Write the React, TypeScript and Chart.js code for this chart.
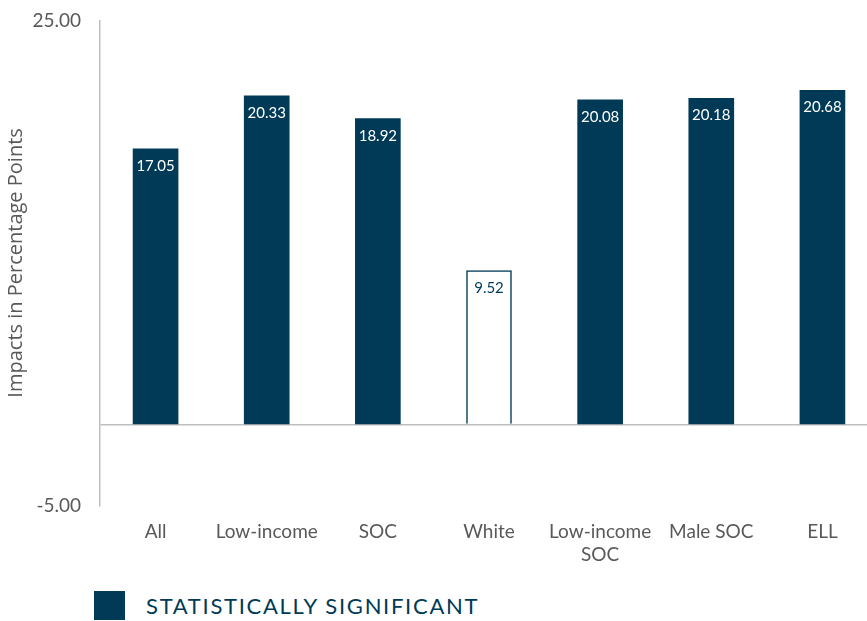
import React, { useEffect, useRef } from "react";
import { Chart, registerables } from "chart.js";

Chart.register(...registerables);

const categories: (string | string[])[] = ["All", "Low-income", "SOC", "White", ["Low-income", "SOC"], "Male SOC", "ELL"];
const impacts: number[] = [17.05, 20.33, 18.92, 9.52, 20.08, 20.18, 20.68];
const significant: boolean[] = [true, true, true, false, true, true, true];
const yTicks: number[] = [-5, 0, 25];

const NAVY = "#003a57";
const GRAY = "#595959";
const LINE = "#bfbfbf";
const FONT = "Lato, 'Open Sans', sans-serif";

const barLabels = {
  id: "barLabels",
  afterDatasetsDraw(chart: any) {
    const ctx = chart.ctx;
    const meta = chart.getDatasetMeta(0);
    ctx.save();
    ctx.font = `15px ${FONT}`;
    ctx.textAlign = "center";
    ctx.textBaseline = "middle";
    meta.data.forEach((bar: any, i: number) => {
      ctx.fillStyle = significant[i] ? "#ffffff" : NAVY;
      ctx.fillText(impacts[i].toFixed(2), bar.x, bar.y + 17);
    });
    ctx.restore();
  },
};

export default function App() {
  const ref = useRef<HTMLCanvasElement | null>(null);
  useEffect(() => {
    if (!ref.current) return;
    const chart = new Chart(ref.current, {
      type: "bar",
      data: {
        labels: categories,
        datasets: [
          {
            label: "Statistically significant",
            data: impacts,
            backgroundColor: significant.map((s) => (s ? NAVY : "#ffffff")),
            borderColor: NAVY,
            borderWidth: significant.map((s) => (s ? 0 : 1.5)),
            barThickness: 45,
          },
        ],
      },
      options: {
        animation: false,
        responsive: false,
        maintainAspectRatio: false,
        layout: { padding: { top: 0, right: 0, left: 0, bottom: 0 } },
        plugins: { legend: { display: false }, tooltip: { enabled: false } },
        scales: {
          x: {
            grid: { display: false },
            border: { display: false },
            ticks: { color: GRAY, font: { family: FONT, size: 19 }, padding: 7, maxRotation: 0, autoSkip: false },
          },
          y: {
            min: -5,
            max: 25,
            afterBuildTicks: (scale: any) => {
              scale.ticks = yTicks.map((v) => ({ value: v }));
            },
            afterFit: (scale: any) => {
              scale.width = 100;
            },
            grid: {
              drawTicks: false,
              color: (c: any) => (c.tick && c.tick.value === 0 ? LINE : "rgba(0,0,0,0)"),
              lineWidth: 1.5,
            },
            border: { display: true, color: LINE, width: 1.5 },
            ticks: {
              color: GRAY,
              font: { family: FONT, size: 19 },
              padding: 19,
              callback: (v: any) => (Number(v) === 0 ? "" : Number(v).toFixed(2)),
            },
            title: {
              display: true,
              text: "Impacts in Percentage Points",
              color: GRAY,
              font: { family: "'Open Sans', sans-serif", size: 20 },
              padding: { top: 4, bottom: 0 },
            },
          },
        },
      },
      plugins: [barLabels],
    });
    return () => chart.destroy();
  }, []);

  return (
    <div style={{ position: "absolute", left: 0, top: 0, width: 867, height: 621, overflow: "hidden", background: "#fff" }}>
      <div style={{ position: "absolute", left: 0, top: -10, width: 878, height: 583 }}>
        <canvas ref={ref} width={878} height={583} />
      </div>
      <div
        style={{
          position: "absolute",
          left: 94,
          top: 591,
          display: "flex",
          alignItems: "center",
          fontFamily: FONT,
          fontSize: 22,
          letterSpacing: 1.7,
          color: NAVY,
          whiteSpace: "nowrap",
        }}
      >
        <span style={{ display: "inline-block", width: 31, height: 29, background: NAVY, marginRight: 21 }} />
        <span>STATISTICALLY SIGNIFICANT</span>
      </div>
    </div>
  );
}
